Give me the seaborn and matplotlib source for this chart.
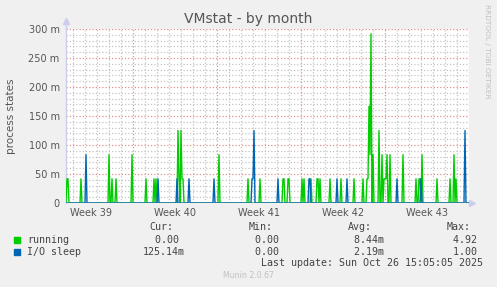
import numpy as np
import pandas as pd
import matplotlib
matplotlib.use("Agg")
import matplotlib.pyplot as plt
import seaborn as sns

# ---------------- data (2-hour samples, values in milli "process states") ----
n_samples = 404
running_idx = [1, 2, 15, 43, 46, 50, 66, 80, 88, 90, 112, 113, 115, 116, 117,
               153, 182, 194, 217, 218, 222, 223, 236, 238, 245, 251, 252, 254,
               264, 275, 288, 297, 301, 302, 303, 304, 305, 307, 313, 316, 318,
               319, 320, 321, 324, 337, 350, 353, 354, 356, 371, 384, 388, 390]
running_val = [41.7, 41.7, 41.7, 83.3, 41.7, 41.7, 83.3, 41.7, 41.7, 41.7, 125.0,
               41.7, 125.0, 41.7, 41.7, 83.3, 41.7, 41.7, 41.7, 41.7, 41.7, 41.7,
               41.7, 41.7, 41.7, 41.7, 41.7, 41.7, 41.7, 41.7, 41.7, 41.7, 41.7,
               41.7, 166.7, 83.3, 291.7, 83.3, 125.0, 83.3, 41.7, 41.7, 41.7, 83.3,
               83.3, 83.3, 41.7, 41.7, 41.7, 83.3, 41.7, 41.7, 83.3, 41.7]
io_idx = [20, 92, 111, 123, 148, 186, 187, 188, 212, 243, 244, 271, 281, 331,
          355, 399]
io_val = [83.3, 41.7, 41.7, 41.7, 41.7, 41.7, 41.7, 125.0, 41.7, 41.7, 41.7,
          41.7, 41.7, 41.7, 41.7, 125.0]

series_names = ["running", "I/O sleep"]
series_colors = ["#00CC00", "#0066B3"]
week_labels = ["Week 39", "Week 40", "Week 41", "Week 42", "Week 43"]
y_ticks = [0, 50, 100, 150, 200, 250, 300]
y_ticklabels = ["0", "50 m", "100 m", "150 m", "200 m", "250 m", "300 m"]
legend_rows = [
    ["running", "  0.00 ", "  0.00 ", "  8.44m", "  4.92 "],
    ["I/O sleep", "125.14m", "  0.00 ", "  2.19m", "  1.00 "],
]
legend_heads = ["Cur:", "Min:", "Avg:", "Max:"]

running = np.zeros(n_samples)
running[running_idx] = running_val
io = np.zeros(n_samples)
io[io_idx] = io_val
samples = np.arange(n_samples)
df = pd.concat([
    pd.DataFrame({"sample": samples, "value": running, "series": "running"}),
    pd.DataFrame({"sample": samples, "value": io, "series": "I/O sleep"}),
])

# ---------------- figure ---------------------------------------------------
sns.set_style("white")
plt.rcParams["font.family"] = ["DejaVu Sans"]
W, H = 497, 287
fig = plt.figure(figsize=(W / 100, H / 100), dpi=100, facecolor="#F0F0F0")
L, R, T, B = 66, 469, 29, 203
ax = fig.add_axes([L / W, 1 - B / H, (R - L) / W, (B - T) / H])
ax.set_facecolor("white")

xmax = 403
ax.set_xlim(0, xmax)
ax.set_ylim(0, 300)

# grid
week0 = 67.3
week_len = 84
day_len = 12
for k in range(-6, 40):
    xd = week0 + k * day_len
    if 0 < xd < xmax + 0.5:
        if k % 7 == 0:
            col = "#E09090"
        else:
            col = "#C4C4C4"
        ax.axvline(xd, color=col, lw=0.9, ls=(0, (1, 1.6)), zorder=0)
for yv in range(10, 301, 10):
    col = "#E09090" if yv % 50 == 0 else "#C4C4C4"
    ax.axhline(yv, color=col, lw=0.9, ls=(0, (1, 1.6)), zorder=0)

sns.lineplot(data=df, x="sample", y="value", hue="series",
             hue_order=series_names, palette=series_colors, linewidth=1.0,
             legend=False, ax=ax, zorder=3)

ax.axhline(0, color="#8090C0", lw=1.0, zorder=4)

# ticks
week_centers = [week0 - week_len / 2 + i * week_len for i in range(len(week_labels))]
ax.set_xticks(week_centers)
ax.set_xticklabels(week_labels)
ax.set_yticks(y_ticks)
ax.set_yticklabels(y_ticklabels)
ax.tick_params(axis="x", length=0, pad=3.5, labelsize=7, labelcolor="#555555")
ax.tick_params(axis="y", length=0, pad=4.5, labelsize=7, labelcolor="#555555")
ax.set_xlabel("")
ax.set_ylabel("process states", fontsize=7.5, color="#555555", labelpad=9)

for s in ["top", "right", "bottom"]:
    ax.spines[s].set_visible(False)
ax.spines["left"].set_color("#CCCCEE")
ax.spines["left"].set_linewidth(1.0)
ax.spines["left"].set_bounds(0, 300)

# axis arrows
ax.plot([0, 0], [300, 312], color="#CCCCEE", lw=1.0, clip_on=False)
ax.plot([0], [314], marker="^", color="#CCCCEE", ms=4, clip_on=False)
ax.plot([xmax, xmax + 2], [0, 0], color="#8090C0", lw=1.0, clip_on=False)
ax.plot([xmax + 3], [0], marker=">", color="#CCCCEE", ms=4, clip_on=False)

# title and side text
fig.text(248 / W, 1 - 19.5 / H, "VMstat - by month", ha="center", va="center",
         fontsize=10, color="#555555")
fig.text(487 / W, 1 - 4 / H, "RRDTOOL / TOBI OETIKER", rotation=270,
         ha="center", va="top", fontsize=5.3, color="#C0C0C0")

# legend table
mono = "DejaVu Sans Mono"
tc = "#444444"
fs = 7.2
col_x = [143, 243, 342, 441]
head_x = [149, 249, 348, 447]
for hx, h in zip(head_x, legend_heads):
    fig.text(hx / W, 1 - 227 / H, h, ha="left", va="center", family=mono,
             fontsize=fs, color=tc)
for r, (row, yc, color) in enumerate(zip(legend_rows, [240, 252], series_colors)):
    fig.patches.append(plt.Rectangle((14 / W, 1 - (yc + 3) / H), 6 / W, 6 / H,
                                     transform=fig.transFigure, color=color))
    fig.text(27 / W, 1 - yc / H, row[0], ha="left", va="center", family=mono,
             fontsize=fs, color=tc)
    for cx, v in zip(col_x, row[1:]):
        fig.text(cx / W, 1 - yc / H, v, ha="left", va="center", family=mono,
                 fontsize=fs, color=tc)
fig.text(483 / W, 1 - 263.5 / H, "Last update: Sun Oct 26 15:05:05 2025",
         ha="right", va="center", family=mono, fontsize=fs, color=tc)
fig.text(248 / W, 1 - 276 / H, "Munin 2.0.67", ha="center", va="center",
         fontsize=5.6, color="#C0C0C0")

fig.savefig("out.png", dpi=100, facecolor=fig.get_facecolor())
